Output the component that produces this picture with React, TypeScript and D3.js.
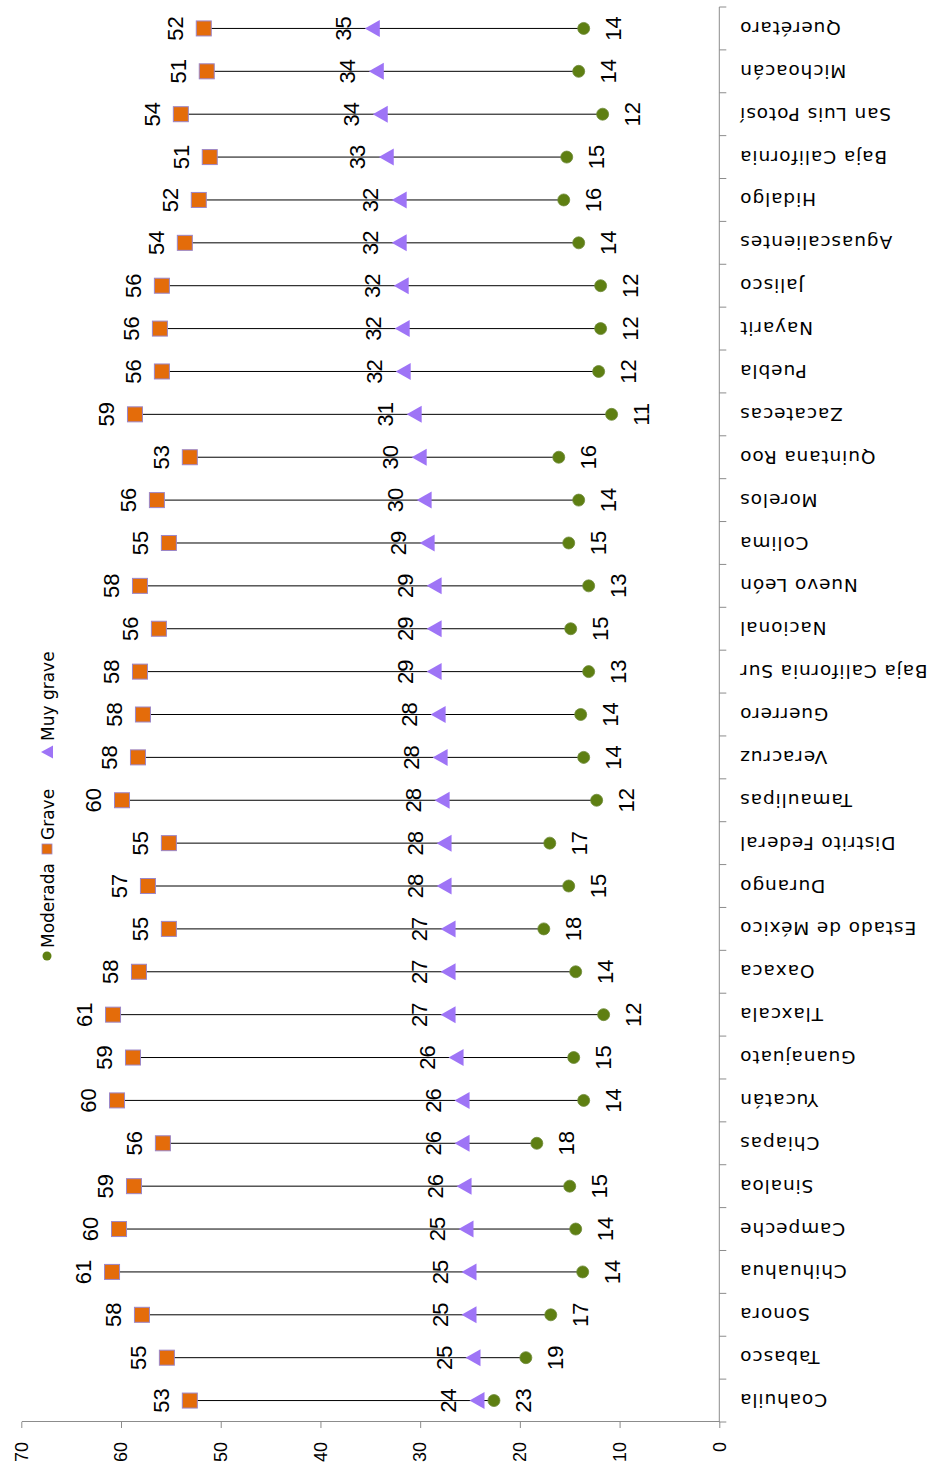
import { useEffect, useRef } from "react";
import * as d3 from "d3";

// categories in order along the category axis (first = bottom of the picture)
const categories = [
  "Coahuila", "Tabasco", "Sonora", "Chihuahua", "Campeche", "Sinaloa", "Chiapas",
  "Yucatán", "Guanajuato", "Tlaxcala", "Oaxaca", "Estado de México", "Durango",
  "Distrito Federal", "Tamaulipas", "Veracruz", "Guerrero", "Baja California Sur",
  "Nacional", "Nuevo León", "Colima", "Morelos", "Quintana Roo", "Zacatecas",
  "Puebla", "Nayarit", "Jalisco", "Aguascalientes", "Hidalgo", "Baja California",
  "San Luis Potosí", "Michoacán", "Querétaro",
];

const moderada = [
  22.6, 19.4, 16.9, 13.7, 14.4, 15.0, 18.3, 13.6, 14.6, 11.6, 14.4, 17.6, 15.1,
  17.0, 12.3, 13.6, 13.9, 13.1, 14.9, 13.1, 15.1, 14.1, 16.1, 10.8, 12.1, 11.9,
  11.9, 14.1, 15.6, 15.3, 11.7, 14.1, 13.6,
];

const grave = [
  53.1, 55.4, 57.9, 60.9, 60.2, 58.7, 55.8, 60.4, 58.8, 60.8, 58.2, 55.2, 57.3,
  55.2, 59.9, 58.3, 57.8, 58.1, 56.2, 58.1, 55.2, 56.4, 53.1, 58.6, 55.9, 56.1,
  55.9, 53.6, 52.2, 51.1, 54.0, 51.4, 51.7,
];

const muyGrave = [
  24.3, 24.7, 25.1, 25.1, 25.4, 25.6, 25.8, 25.8, 26.4, 27.2, 27.2, 27.2, 27.6,
  27.6, 27.8, 28.0, 28.2, 28.6, 28.6, 28.6, 29.3, 29.6, 30.1, 30.6, 31.7, 31.8,
  31.9, 32.1, 32.1, 33.4, 34.0, 34.4, 34.8,
];

const valueTicks = [0, 10, 20, 30, 40, 50, 60, 70];
const seriesNames = ["Moderada", "Grave", "Muy grave"];

const W = 937;
const H = 1472;
const TEXT_FONT = "'DejaVu Sans', Verdana, sans-serif";
const NUM_FONT = "'Liberation Sans', Arial, sans-serif";
const AXIS = "#8c8c8c";
const GREEN = "#5e7f12";
const ORANGE = "#e46c0a";
const SQUARE_EDGE = "#9b86c8";
const PURPLE = "#9e74f6";

const triangle = "M0,-7.5L8.5,7.5L-8.5,7.5Z";

const App = () => {
  const ref = useRef<SVGSVGElement>(null);

  useEffect(() => {
    if (!ref.current) return;
    const svg = d3.select(ref.current);
    svg.selectAll("*").remove();

    // the chart is drawn upright (H wide, W tall) then turned a quarter turn left
    const g = svg.append("g").attr("transform", `translate(0,${H}) rotate(-90)`);

    const x = d3.scaleBand().domain(categories).range([50, 1465]);
    const y = d3.scaleLinear().domain([0, 70]).range([719.3, 21.3]);
    const cx = (i: number) => x(categories[i])! + x.bandwidth() / 2;
    const base = y(0);

    // value axis
    const yAxis = g
      .append("g")
      .attr("transform", "translate(50,0)")
      .call(d3.axisLeft(y).tickValues(valueTicks).tickSize(6).tickSizeOuter(0).tickPadding(14));
    yAxis.select(".domain").attr("stroke", AXIS);
    yAxis.selectAll(".tick line").attr("stroke", AXIS);
    yAxis
      .selectAll(".tick text")
      .attr("font-family", NUM_FONT)
      .attr("font-size", 18)
      .attr("fill", "#000");

    // category axis
    g.append("line")
      .attr("x1", 50)
      .attr("x2", 1465)
      .attr("y1", base)
      .attr("y2", base)
      .attr("stroke", AXIS);
    const bounds = [...categories.map((c) => x(c)!), 1465];
    g.selectAll(".ctick")
      .data(bounds)
      .join("line")
      .attr("x1", (d) => d)
      .attr("x2", (d) => d)
      .attr("y1", base)
      .attr("y2", base + 7)
      .attr("stroke", AXIS);
    g.selectAll(".clabel")
      .data(categories)
      .join("text")
      .attr("transform", (d, i) => `translate(${cx(i)},${base + 20}) rotate(-90)`)
      .attr("text-anchor", "end")
      .attr("dy", "0.35em")
      .attr("font-family", TEXT_FONT)
      .attr("font-size", 18.5)
      .attr("letter-spacing", 0.9)
      .attr("fill", "#000")
      .text((d) => d);

    // high-low lines
    g.selectAll(".hl")
      .data(categories)
      .join("line")
      .attr("x1", (d, i) => cx(i))
      .attr("x2", (d, i) => cx(i))
      .attr("y1", (d, i) => y(Math.min(moderada[i], grave[i], muyGrave[i])))
      .attr("y2", (d, i) => y(Math.max(moderada[i], grave[i], muyGrave[i])))
      .attr("stroke", "#000")
      .attr("stroke-width", 1);

    // markers
    g.selectAll(".mod")
      .data(moderada)
      .join("circle")
      .attr("cx", (d, i) => cx(i))
      .attr("cy", (d) => y(d))
      .attr("r", 6)
      .attr("fill", GREEN)
      .attr("stroke", "#6f8a3a")
      .attr("stroke-width", 0.8);

    g.selectAll(".grv")
      .data(grave)
      .join("rect")
      .attr("x", (d, i) => cx(i) - 7.5)
      .attr("y", (d) => y(d) - 7.5)
      .attr("width", 15)
      .attr("height", 15)
      .attr("fill", ORANGE)
      .attr("stroke", SQUARE_EDGE)
      .attr("stroke-width", 1);

    g.selectAll(".mg")
      .data(muyGrave)
      .join("path")
      .attr("d", triangle)
      .attr("transform", (d, i) => `translate(${cx(i)},${y(d)})`)
      .attr("fill", PURPLE);

    // data labels
    const fmt = d3.format(".0f");
    const labels = (data: number[], off: number) =>
      g.append("g")
        .selectAll("text")
        .data(data)
        .join("text")
        .attr("x", (d, i) => cx(i))
        .attr("y", (d) => y(d) + off)
        .attr("text-anchor", "middle")
        .attr("font-family", NUM_FONT)
        .attr("font-size", 22)
        .attr("fill", "#000")
        .text((d) => fmt(d));
    labels(moderada, 37);
    labels(grave, -21);
    labels(muyGrave, -21);

    // legend
    const legend = g.append("g").attr("transform", "translate(0,47)");
    legend.append("circle").attr("cx", 516).attr("cy", 0).attr("r", 4.5).attr("fill", GREEN);
    legend
      .append("rect")
      .attr("x", 618)
      .attr("y", -5)
      .attr("width", 10)
      .attr("height", 10)
      .attr("fill", ORANGE)
      .attr("stroke", SQUARE_EDGE)
      .attr("stroke-width", 0.8);
    legend
      .append("path")
      .attr("d", "M0,-6L6.5,6L-6.5,6Z")
      .attr("transform", "translate(720,0)")
      .attr("fill", PURPLE);
    legend
      .selectAll("text")
      .data(seriesNames)
      .join("text")
      .attr("x", (d, i) => [524, 632, 731][i])
      .attr("y", 6.5)
      .attr("font-family", TEXT_FONT)
      .attr("font-size", 17)
      .attr("fill", "#000")
      .text((d) => d);
  }, []);

  return (
    <svg
      ref={ref}
      width={W}
      height={H}
      style={{ position: "absolute", left: 0, top: 0, background: "#fff" }}
    />
  );
};

export default App;
